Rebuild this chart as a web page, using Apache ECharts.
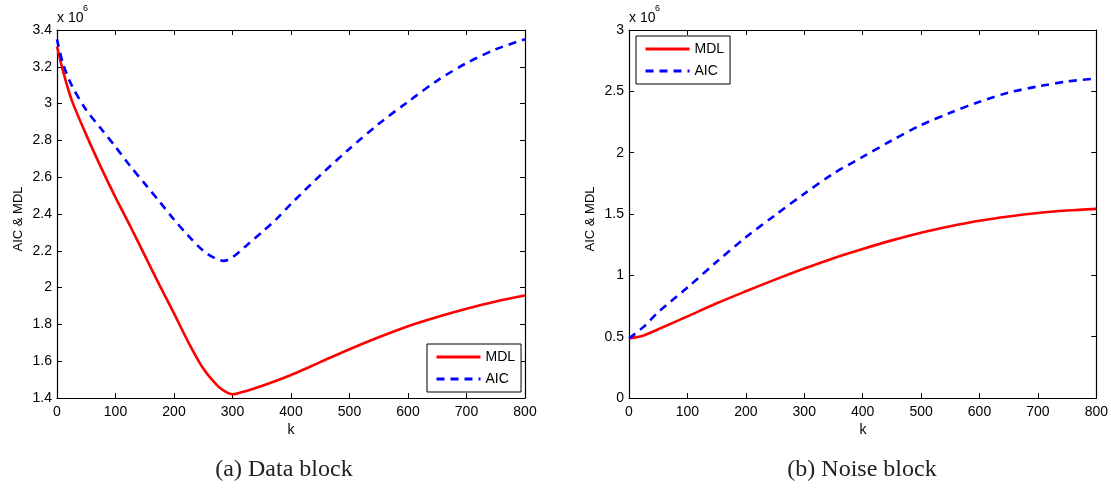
<!DOCTYPE html>
<html>
<head>
<meta charset="utf-8">
<script src="https://cdn.jsdelivr.net/npm/echarts@6/dist/echarts.min.js"></script>
<style>
html,body{margin:0;padding:0;background:#fff;}
#chart{width:1111px;height:494px;}
</style>
</head>
<body>
<div id="chart"></div>
<script>
// ---- Data (values in units of 10^6) ----
const kData = [0, 10, 25, 50, 75, 100, 125, 150, 175, 200, 225, 250, 275, 290, 300, 325, 350, 400, 450, 500, 550, 600, 650, 700, 750, 800];
const mdlData = [3.31, 3.18, 3.02, 2.83, 2.655, 2.49, 2.335, 2.175, 2.015, 1.86, 1.70, 1.56, 1.465, 1.43, 1.42, 1.44, 1.465, 1.525, 1.595, 1.665, 1.73, 1.79, 1.84, 1.885, 1.925, 1.957];

const kDataAic = [0, 10, 25, 50, 75, 100, 125, 150, 175, 200, 225, 250, 270, 285, 300, 325, 350, 375, 400, 450, 500, 550, 600, 650, 700, 750, 800];
const aicData = [3.35, 3.22, 3.10, 2.965, 2.865, 2.765, 2.661, 2.565, 2.468, 2.37, 2.28, 2.20, 2.16, 2.145, 2.165, 2.232, 2.30, 2.372, 2.455, 2.61, 2.755, 2.89, 3.01, 3.125, 3.22, 3.295, 3.35];

const kNoise = [0, 25, 50, 100, 150, 200, 250, 300, 350, 400, 450, 500, 550, 600, 650, 700, 750, 800];
const mdlNoise = [0.485, 0.51, 0.56, 0.665, 0.772, 0.87, 0.965, 1.055, 1.14, 1.215, 1.285, 1.348, 1.40, 1.445, 1.48, 1.508, 1.528, 1.542];
const aicNoise = [0.485, 0.58, 0.70, 0.90, 1.11, 1.31, 1.49, 1.665, 1.83, 1.965, 2.10, 2.225, 2.325, 2.415, 2.49, 2.54, 2.58, 2.605];

const seriesNames = ['MDL', 'AIC'];
const captions = ['(a) Data block', '(b) Noise block'];
const yAxisTitle = 'AIC & MDL';
const xAxisTitle = 'k';

const pairs = (xs, ys) => xs.map((x, i) => [x, ys[i]]);

const FONT = 'Liberation Sans, Arial, sans-serif';
const chart = echarts.init(document.getElementById('chart'), null, {renderer: 'canvas'});

const grids = [
  {left: 57, top: 30, width: 468, height: 368},
  {left: 629, top: 30, width: 469, height: 368}
];

function xAxes(gi) {
  const base = {
    gridIndex: gi, type: 'value', min: 0, max: 800, interval: 100,
    splitLine: {show: false},
    axisLine: {show: true, onZero: false, lineStyle: {color: '#000', width: 1.2}},
    axisTick: {show: true, inside: true, length: 5, lineStyle: {color: '#000'}}
  };
  return [
    Object.assign({}, base, {position: 'bottom',
      axisLabel: {show: true, color: '#000', fontSize: 14, fontFamily: FONT, margin: 7}}),
    Object.assign({}, base, {position: 'top', axisLabel: {show: false}})
  ];
}
function yAxes(gi, min, max, interval, fmt) {
  const base = {
    gridIndex: gi, type: 'value', min: min, max: max, interval: interval,
    splitLine: {show: false},
    axisLine: {show: true, onZero: false, lineStyle: {color: '#000', width: 1.2}},
    axisTick: {show: true, inside: true, length: 5, lineStyle: {color: '#000'}}
  };
  return [
    Object.assign({}, base, {position: 'left',
      axisLabel: {show: true, color: '#000', fontSize: 14, fontFamily: FONT, margin: 5, formatter: fmt}}),
    Object.assign({}, base, {position: 'right', axisLabel: {show: false}})
  ];
}

const fmtLeft = v => {
  const r = Math.round(v * 10) / 10;
  return Number.isInteger(r) ? String(r) : r.toFixed(1);
};
const fmtRight = v => String(Math.round(v * 10) / 10);

function lineSeries(name, xi, yi, data, color, dashed) {
  return {
    name: name, type: 'line', xAxisIndex: xi, yAxisIndex: yi,
    data: data, showSymbol: false, symbol: 'none', smooth: 0.3,
    lineStyle: {color: color, width: 2.6, type: dashed ? [8, 6] : 'solid'},
    itemStyle: {color: color},
    emphasis: {disabled: true}, animation: false
  };
}

const legendBase = {
  orient: 'vertical', selectedMode: false,
  itemWidth: 44, itemHeight: 14, itemGap: 8,
  padding: [6, 6, 6, 8],
  borderColor: '#000', borderWidth: 1, backgroundColor: '#fff',
  itemStyle: {opacity: 0},
  lineStyle: {width: 3},
  textStyle: {color: '#000', fontSize: 14, fontFamily: FONT},
  data: seriesNames
};

function textEl(text, x, y, size, extra) {
  return Object.assign({
    type: 'text', x: x, y: y, silent: true,
    style: Object.assign({text: text, fill: '#000', font: size + 'px ' + FONT,
      textAlign: 'left', textVerticalAlign: 'middle'}, extra && extra.style || {})
  }, extra && extra.props || {});
}

const option = {
  backgroundColor: '#fff',
  animation: false,
  grid: grids,
  xAxis: [...xAxes(0), ...xAxes(1)],
  yAxis: [...yAxes(0, 1.4, 3.4, 0.2, fmtLeft), ...yAxes(1, 0, 3, 0.5, fmtRight)],
  legend: [
    Object.assign({}, legendBase, {left: 427, top: 344}),
    Object.assign({}, legendBase, {left: 636, top: 36})
  ],
  series: [
    lineSeries(seriesNames[0], 0, 0, pairs(kData, mdlData), '#ff0000', false),
    lineSeries(seriesNames[1], 0, 0, pairs(kDataAic, aicData), '#0000ff', true),
    lineSeries(seriesNames[0], 2, 2, pairs(kNoise, mdlNoise), '#ff0000', false),
    lineSeries(seriesNames[1], 2, 2, pairs(kNoise, aicNoise), '#0000ff', true)
  ],
  graphic: [
    textEl('x 10', 57, 18, 14),
    textEl('6', 83, 9, 9),
    textEl('x 10', 629, 18, 14),
    textEl('6', 655, 9, 9),
    textEl(yAxisTitle, 18, 219, 13, {style: {textAlign: 'center'}, props: {rotation: Math.PI / 2}}),
    textEl(yAxisTitle, 590, 219, 13, {style: {textAlign: 'center'}, props: {rotation: Math.PI / 2}}),
    textEl(xAxisTitle, 291, 430, 14, {style: {textAlign: 'center'}}),
    textEl(xAxisTitle, 863, 430, 14, {style: {textAlign: 'center'}}),
    {type: 'text', x: 284, y: 470, silent: true,
      style: {text: captions[0], fill: '#222', font: '24px Liberation Serif, Times New Roman, serif',
        textAlign: 'center', textVerticalAlign: 'middle'}},
    {type: 'text', x: 862, y: 470, silent: true,
      style: {text: captions[1], fill: '#222', font: '24px Liberation Serif, Times New Roman, serif',
        textAlign: 'center', textVerticalAlign: 'middle'}}
  ]
};
chart.setOption(option);
</script>
</body>
</html>
